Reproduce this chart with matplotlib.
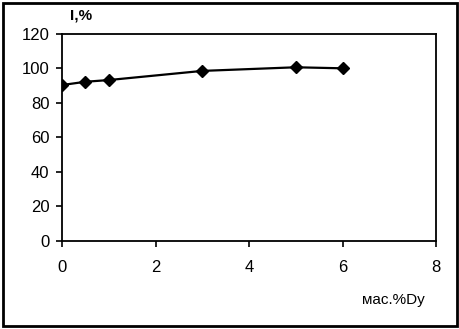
import matplotlib
matplotlib.use("Agg")
import matplotlib.pyplot as plt
from matplotlib.patches import Rectangle

x_vals = [0, 0.5, 1, 3, 5, 6]
y_vals = [90.4, 92.3, 93.3, 98.6, 100.7, 100.1]
x_ticks = [0, 2, 4, 6, 8]
y_ticks = [0, 20, 40, 60, 80, 100, 120]

plt.rcParams['font.family'] = ['Liberation Sans', 'DejaVu Sans']

fig = plt.figure(figsize=(4.6, 3.29), dpi=100)
ax = fig.add_axes([0.1348, 0.2675, 0.948 - 0.1348, 0.8967 - 0.2675])
ax.plot(x_vals, y_vals, color='black', lw=1.6, marker='D', markersize=6,
        markerfacecolor='black', markeredgecolor='black')
ax.set_xlim(0, 8)
ax.set_ylim(0, 120)
ax.set_xticks(x_ticks)
ax.set_yticks(y_ticks)
ax.tick_params(axis='both', direction='out', length=4, width=1.2, labelsize=12, colors='black')
ax.tick_params(axis='x', pad=10)
ax.tick_params(axis='y', pad=5)
for s in ax.spines.values():
    s.set_linewidth(1.3)
    s.set_color('black')

fig.text(70 / 460, 1 - 16 / 329, 'I,%', fontsize=11, ha='left', va='center', fontweight='bold')
fig.text(393 / 460, 1 - 300 / 329, 'мас.%Dy', fontsize=11, ha='center', va='center')

fig.patches.append(Rectangle((3 / 460, 3 / 329), 454 / 460, 323 / 329,
                             transform=fig.transFigure, fill=False,
                             edgecolor='black', linewidth=2))

fig.savefig('out.png', dpi=100)
